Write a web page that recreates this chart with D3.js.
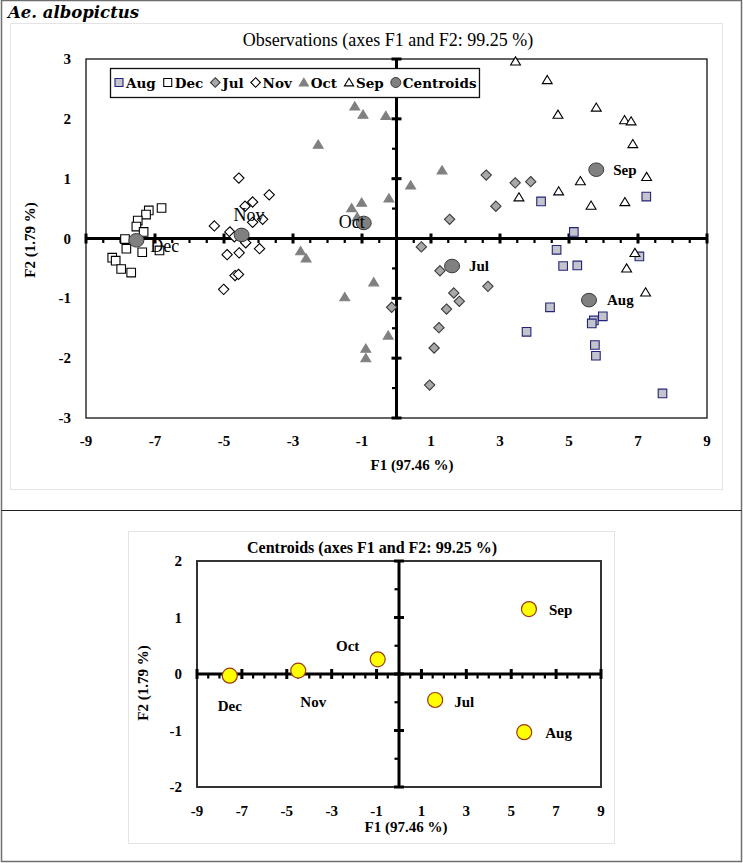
<!DOCTYPE html>
<html><head><meta charset="utf-8">
<script src="https://cdn.jsdelivr.net/npm/d3@7"></script>
<style>body{margin:0;background:#fff}</style>
</head><body><svg id="c" width="743" height="863"></svg>
<script>
// ---------- data ----------
const augX = [4.19, 7.24, 5.14, 4.64, 4.83, 5.24, 7.04, 4.45, 3.77, 5.98, 5.72, 5.66, 5.75, 5.78, 7.71];
const augY = [0.62, 0.70, 0.11, -0.19, -0.46, -0.45, -0.30, -1.15, -1.56, -1.30, -1.37, -1.42, -1.78, -1.96, -2.59];
const decX = [-6.81, -7.18, -7.26, -7.50, -7.54, -7.33, -7.87, -6.87, -7.37, -7.83, -8.24, -8.14, -7.98, -7.69];
const decY = [0.51, 0.47, 0.40, 0.30, 0.20, 0.11, -0.01, -0.20, -0.23, -0.17, -0.32, -0.37, -0.51, -0.57];
const julX = [2.60, 3.44, 3.89, 2.88, 1.54, 0.72, 1.26, 2.65, 1.66, 1.82, 1.45, 1.23, 1.09, 0.96, -0.14];
const julY = [1.06, 0.93, 0.95, 0.54, 0.32, -0.14, -0.54, -0.80, -0.91, -1.05, -1.18, -1.49, -1.83, -2.45, -1.15];
const novX = [-4.57, -3.69, -4.39, -4.17, -4.17, -3.88, -5.28, -4.83, -4.70, -4.37, -3.97, -4.91, -4.56, -4.68, -4.58, -5.01];
const novY = [1.01, 0.73, 0.54, 0.61, 0.27, 0.32, 0.21, 0.11, 0.03, -0.07, -0.17, -0.27, -0.24, -0.62, -0.60, -0.85];
const octX = [-1.21, -0.97, -0.31, -2.27, 0.41, -0.22, -1.01, -1.30, -1.14, -2.78, -2.62, -0.66, -1.50, -0.24, -0.89, -0.89, 1.32];
const octY = [2.21, 2.07, 2.05, 1.57, 0.89, 0.67, 0.60, 0.51, 0.36, -0.21, -0.33, -0.73, -0.98, -1.62, -1.84, -2.00, 1.14];
const sepX = [3.45, 4.37, 4.68, 5.79, 6.61, 6.80, 6.85, 7.25, 5.33, 4.70, 3.55, 5.64, 6.62, 6.91, 6.67, 7.22];
const sepY = [2.96, 2.65, 2.07, 2.19, 1.98, 1.96, 1.58, 1.03, 0.96, 0.79, 0.69, 0.55, 0.61, -0.24, -0.50, -0.90];
const centroidNames = ["Aug", "Dec", "Jul", "Nov", "Oct", "Sep"];
const centroidX = [5.58, -7.54, 1.61, -4.49, -0.95, 5.79];
const centroidY = [-1.03, -0.03, -0.46, 0.06, 0.26, 1.15];
const xTickLabels = [-9, -7, -5, -3, -1, 1, 3, 5, 7, 9];
const yTickLabelsTop = [3, 2, 1, 0, -1, -2, -3];
const yTickLabelsBottom = [2, 1, 0, -1, -2];
const legendLabels = ["Aug", "Dec", "Jul", "Nov", "Oct", "Sep", "Centroids"];

// ---------- styles ----------
const SERIF = "'Liberation Serif', 'DejaVu Serif', serif";
const styles = {
  Aug: {shape: "square", fill: "#c4c4cc", stroke: "#23237a"},
  Dec: {shape: "square", fill: "#ffffff", stroke: "#000"},
  Jul: {shape: "diamond", fill: "#a8a8a8", stroke: "#3a3a3a"},
  Nov: {shape: "diamond", fill: "#ffffff", stroke: "#000"},
  Oct: {shape: "triangle", fill: "#808080", stroke: "#808080"},
  Sep: {shape: "triangle", fill: "#ffffff", stroke: "#000"},
  Centroids: {shape: "circle", fill: "#808080", stroke: "#3a3a3a"}
};
function markerPath(shape, s) {
  if (shape === "square") return `M${-s},${-s}H${s}V${s}H${-s}Z`;
  if (shape === "diamond") return `M0,${-s*1.2}L${s*1.2},0L0,${s*1.2}L${-s*1.2},0Z`;
  if (shape === "triangle") return `M0,${-s*1.05}L${s*1.15},${s*0.85}L${-s*1.15},${s*0.85}Z`;
  return d3.symbol(d3.symbolCircle, Math.PI * s * s)();
}

const svg = d3.select("#c");
svg.append("rect").attr("width", 743).attr("height", 863).attr("fill", "#fff");

// outer borders
svg.append("rect").attr("x", 1.5).attr("y", 0.5).attr("width", 740).attr("height", 861)
  .attr("fill", "none").attr("stroke", "#6e6e6e").attr("stroke-width", 1.5);
svg.append("line").attr("x1", 1.5).attr("x2", 741.5).attr("y1", 510.5).attr("y2", 510.5)
  .attr("stroke", "#222").attr("stroke-width", 1.2);
// inner chart-area boxes
svg.append("rect").attr("x", 10.5).attr("y", 23.5).attr("width", 712).attr("height", 466)
  .attr("fill", "none").attr("stroke", "#e4e4e4");
svg.append("rect").attr("x", 128.5).attr("y", 531.5).attr("width", 486).attr("height", 312)
  .attr("fill", "none").attr("stroke", "#e4e4e4");

svg.append("text").attr("x", 8).attr("y", 18).text("Ae. albopictus")
  .attr("font-family", "'DejaVu Serif', serif").attr("font-style", "italic").attr("font-weight", "bold")
  .attr("font-size", 16.5).attr("fill", "#000");

function drawAxes(g, x, y, opt) {
  const [x0, x1] = x.range(), [y1, y0] = y.range();
  const ox = x(0), oy = y(0);
  g.append("rect").attr("x", x0).attr("y", y0).attr("width", x1 - x0).attr("height", y1 - y0)
    .attr("fill", "none").attr("stroke", opt.frameColor).attr("stroke-width", opt.frameWidth);
  g.append("line").attr("x1", x0).attr("x2", x1).attr("y1", oy).attr("y2", oy)
    .attr("stroke", "#000").attr("stroke-width", 3);
  const xMinor = d3.range(-9, 9.01, 0.5).filter(v => Math.abs((v + 9) % 2) > 0.01);
  g.selectAll(".xmin").data(xMinor).join("line")
    .attr("x1", d => x(d)).attr("x2", d => x(d)).attr("y1", oy).attr("y2", oy + 4.5)
    .attr("stroke", "#000").attr("stroke-width", 2.2);
  g.selectAll(".xmaj").data(xTickLabels).join("line")
    .attr("x1", d => x(d)).attr("x2", d => x(d)).attr("y1", oy - 5).attr("y2", oy + 5)
    .attr("stroke", "#000").attr("stroke-width", 3);
  g.append("line").attr("x1", ox).attr("x2", ox).attr("y1", y0).attr("y2", y1)
    .attr("stroke", "#000").attr("stroke-width", 3);
  const yd = y.domain();
  const yMinor = d3.range(yd[0] + 0.5, yd[1], 1);
  g.selectAll(".ymin").data(yMinor).join("line")
    .attr("x1", ox - 4.5).attr("x2", ox).attr("y1", d => y(d)).attr("y2", d => y(d))
    .attr("stroke", "#000").attr("stroke-width", 2.2);
  g.selectAll(".ymaj").data(opt.yTicks).join("line")
    .attr("x1", ox - 5).attr("x2", ox + 5).attr("y1", d => y(d)).attr("y2", d => y(d))
    .attr("stroke", "#000").attr("stroke-width", 3);
  g.selectAll(".xl").data(xTickLabels).join("text")
    .attr("x", d => x(d)).attr("y", opt.xLabelY).attr("text-anchor", "middle")
    .attr("dominant-baseline", "central")
    .attr("font-family", SERIF).attr("font-weight", "bold").attr("font-size", opt.tickSize).text(d => d);
  g.selectAll(".yl").data(opt.yTicks).join("text")
    .attr("x", x0 - 15).attr("y", d => y(d)).attr("text-anchor", "end")
    .attr("dominant-baseline", "central")
    .attr("font-family", SERIF).attr("font-weight", "bold").attr("font-size", opt.tickSize).text(d => d);
  g.append("text").attr("x", opt.xTitle[0]).attr("y", opt.xTitle[1]).attr("text-anchor", "middle")
    .attr("dominant-baseline", "central")
    .attr("font-family", SERIF).attr("font-weight", "bold").attr("font-size", opt.titleSize).text("F1 (97.46 %)");
  g.append("text").attr("transform", `translate(${opt.yTitle[0]},${opt.yTitle[1]}) rotate(-90)`)
    .attr("text-anchor", "middle").attr("dominant-baseline", "central")
    .attr("font-family", SERIF).attr("font-weight", "bold").attr("font-size", opt.titleSize).text("F2 (1.79 %)");
}

// ---------- top chart ----------
const xT = d3.scaleLinear().domain([-9, 9]).range([86, 707]);
const yT = d3.scaleLinear().domain([-3, 3]).range([418, 59]);
const gT = svg.append("g");
gT.append("text").attr("x", 388).attr("y", 40).attr("text-anchor", "middle").attr("dominant-baseline", "central")
  .attr("font-family", SERIF).attr("font-size", 18).text("Observations (axes F1 and F2: 99.25 %)");
drawAxes(gT, xT, yT, {frameColor: "#111", frameWidth: 1.3, yTicks: yTickLabelsTop, xLabelY: 441,
  tickSize: 15, titleSize: 15, xTitle: [412, 465], yTitle: [30, 240]});

const series = [
  ["Aug", augX, augY], ["Dec", decX, decY], ["Jul", julX, julY],
  ["Nov", novX, novY], ["Oct", octX, octY], ["Sep", sepX, sepY]
];
series.forEach(([name, xs, ys]) => {
  const st = styles[name];
  gT.selectAll(null).data(xs.map((v, i) => [v, ys[i]])).join("path")
    .attr("transform", d => `translate(${xT(d[0])},${yT(d[1])})`)
    .attr("d", markerPath(st.shape, 4.3))
    .attr("fill", st.fill).attr("stroke", st.stroke).attr("stroke-width", 1.1);
});
const cent = centroidNames.map((n, i) => ({name: n, x: centroidX[i], y: centroidY[i]}));
gT.selectAll(".cen").data(cent).join("ellipse")
  .attr("cx", d => xT(d.x)).attr("cy", d => yT(d.y)).attr("rx", 7.5).attr("ry", 6.8)
  .attr("fill", styles.Centroids.fill).attr("stroke", styles.Centroids.stroke).attr("stroke-width", 1);
const topLab = {
  Sep: {dx: 17, dy: 0, a: "start", b: true}, Aug: {dx: 18, dy: 0, a: "start", b: true},
  Jul: {dx: 17, dy: 0, a: "start", b: true}, Oct: {dx: 1, dy: -1, a: "end", b: false},
  Nov: {dx: -8, dy: -20, a: "start", b: false}, Dec: {dx: 14, dy: 6, a: "start", b: false}
};
gT.selectAll(".cl").data(cent).join("text")
  .attr("x", d => xT(d.x) + topLab[d.name].dx).attr("y", d => yT(d.y) + topLab[d.name].dy)
  .attr("text-anchor", d => topLab[d.name].a).attr("dominant-baseline", "central")
  .attr("font-family", SERIF).attr("font-weight", d => topLab[d.name].b ? "bold" : "normal")
  .attr("font-size", d => topLab[d.name].b ? 15 : 18).text(d => d.name);

// legend
const lg = gT.append("g");
const lgBox = lg.append("rect").attr("x", 110.5).attr("y", 68.5).attr("height", 29)
  .attr("fill", "#fff").attr("stroke", "#111").attr("stroke-width", 1.3);
let lx = 119;
legendLabels.forEach(name => {
  const st = styles[name];
  if (st.shape === "circle") {
    lg.append("circle").attr("cx", lx).attr("cy", 82.5).attr("r", 5)
      .attr("fill", st.fill).attr("stroke", st.stroke);
  } else {
    lg.append("path").attr("transform", `translate(${lx},82.5)`).attr("d", markerPath(st.shape, 4))
      .attr("fill", st.fill).attr("stroke", st.stroke).attr("stroke-width", 1.1);
  }
  const t = lg.append("text").attr("x", lx + 7).attr("y", 87.5)
    .attr("font-family", "'DejaVu Serif', serif").attr("font-weight", "bold").attr("font-size", 13.5).text(name);
  const w = t.node().getComputedTextLength();
  lx = lx + 7 + w + 12;
});
lgBox.attr("width", lx - 12 + 3 - 110.5);

// ---------- bottom chart ----------
const xB = d3.scaleLinear().domain([-9, 9]).range([197, 601]);
const yB = d3.scaleLinear().domain([-2, 2]).range([787, 561]);
const gB = svg.append("g");
gB.append("text").attr("x", 372).attr("y", 547).attr("text-anchor", "middle").attr("dominant-baseline", "central")
  .attr("font-family", SERIF).attr("font-weight", "bold").attr("font-size", 16)
  .text("Centroids (axes F1 and F2: 99.25 %)");
drawAxes(gB, xB, yB, {frameColor: "#333", frameWidth: 2, yTicks: yTickLabelsBottom, xLabelY: 811,
  tickSize: 15, titleSize: 15, xTitle: [406, 827], yTitle: [143, 683]});
gB.selectAll(".bc").data(cent).join("circle")
  .attr("cx", d => xB(d.x)).attr("cy", d => yB(d.y)).attr("r", 7.5)
  .attr("fill", "#ffff00").attr("stroke", "#9a3a10").attr("stroke-width", 1.2);
const botLab = {
  Sep: {dx: 20, dy: 1, a: "start"}, Aug: {dx: 21, dy: 1, a: "start"}, Jul: {dx: 19, dy: 2, a: "start"},
  Oct: {dx: -30, dy: -13, a: "middle"}, Nov: {dx: 15, dy: 31, a: "middle"}, Dec: {dx: 0, dy: 30, a: "middle"}
};
gB.selectAll(".bl").data(cent).join("text")
  .attr("x", d => xB(d.x) + botLab[d.name].dx).attr("y", d => yB(d.y) + botLab[d.name].dy)
  .attr("text-anchor", d => botLab[d.name].a).attr("dominant-baseline", "central")
  .attr("font-family", SERIF).attr("font-weight", "bold").attr("font-size", 15).text(d => d.name);
</script></body></html>
